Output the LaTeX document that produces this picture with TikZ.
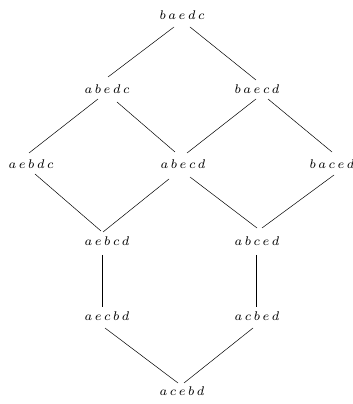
\documentclass[tikz,border=0pt]{standalone}
\usetikzlibrary{calc}
\newcommand{\lsp}{\hspace{1.4pt}}
\begin{document}
\begin{tikzpicture}[x=1pt,y=1pt,
  perm/.style={inner sep=0pt, scale=1.8, font=\fontsize{7}{8}\selectfont},
  edge/.style={draw, line width=0.5pt}]
\useasboundingbox (0,0) rectangle (353,404);
\node[perm] (baedc) at (182,389) {$b\lsp a\lsp e\lsp d\lsp c$};
\node[perm] (abedc) at (107,315) {$a\lsp b\lsp e\lsp d\lsp c$};
\node[perm] (baecd) at (257,315) {$b\lsp a\lsp e\lsp c\lsp d$};
\node[perm] (aebdc) at (31,240) {$a\lsp e\lsp b\lsp d\lsp c$};
\node[perm] (abecd) at (183,240) {$a\lsp b\lsp e\lsp c\lsp d$};
\node[perm] (baced) at (332,240) {$b\lsp a\lsp c\lsp e\lsp d$};
\node[perm] (aebcd) at (107,163) {$a\lsp e\lsp b\lsp c\lsp d$};
\node[perm] (abced) at (257,163) {$a\lsp b\lsp c\lsp e\lsp d$};
\node[perm] (aecbd) at (107,88) {$a\lsp e\lsp c\lsp b\lsp d$};
\node[perm] (acbed) at (257,88) {$a\lsp c\lsp b\lsp e\lsp d$};
\node[perm] (acebd) at (182,13) {$a\lsp c\lsp e\lsp b\lsp d$};
\foreach \u/\ux/\uy/\v/\vx/\vy in {
  baedc/-8/-12/abedc/1/12,
  baedc/8/-12/baecd/-1/9,
  abedc/-9/-10/aebdc/-2/11,
  abedc/10/-13/abecd/-8/12,
  baecd/-1/-10/abecd/4/11,
  baecd/11/-10/baced/0/12,
  aebdc/4/-10/aebcd/-6/10,
  abecd/-14/-15/aebcd/-4/9,
  abecd/7/-13/abced/0/13,
  baced/2/-11/abced/5/13,
  aebcd/-5/-14/aecbd/-5/9,
  abced/-1/-14/acbed/-1/9,
  aecbd/-2/-12/acebd/-4/8,
  acbed/-4/-12/acebd/2/8}
  \draw[edge] ($(\u)+(\ux,\uy)$) -- ($(\v)+(\vx,\vy)$);
\end{tikzpicture}
\end{document}
